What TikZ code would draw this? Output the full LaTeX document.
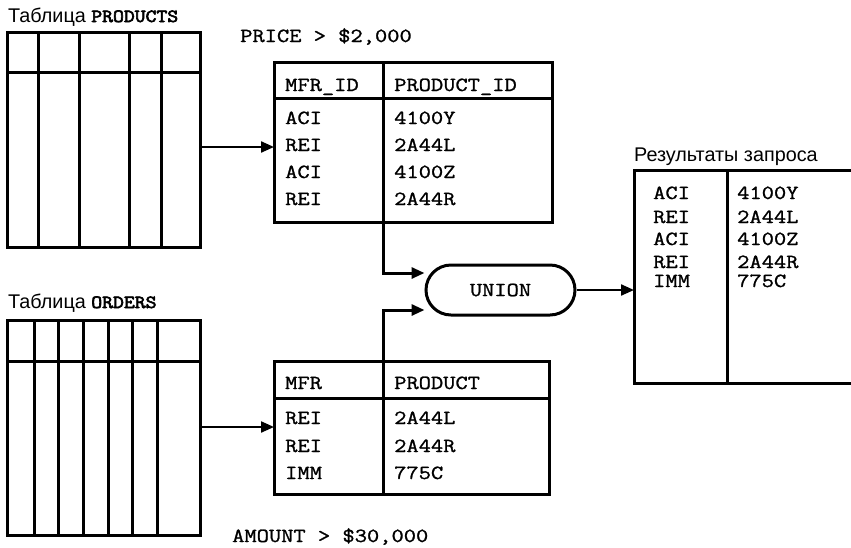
\documentclass[tikz,border=0pt]{standalone}
\usepackage{fontspec}
\setmainfont{Liberation Sans}
\newfontfamily\monof{Latin Modern Mono}[FakeStretch=1.19, FakeBold=1.2]
\newfontfamily\monob{Latin Modern Mono}[FakeStretch=1.14, FakeBold=3.5]
\usetikzlibrary{arrows.meta,shapes.misc}
\begin{document}
\begin{tikzpicture}[x=1pt,y=-1pt,
  frame/.style={draw, line width=3pt, inner sep=0pt, outer sep=0pt},
  gridline/.style={line width=3pt},
  arr/.style={line width=2.2pt, -{Triangle[length=13pt,width=11pt]}},
  lbl/.style={anchor=base west, inner sep=0pt, font=\fontsize{19.8}{20}\selectfont},
  cell/.style={anchor=base west, inner sep=0pt, font=\monof\fontsize{20}{20}\selectfont},
  ]
\useasboundingbox (0,0) rectangle (851,547);

% ---- PRODUCTS table
\node[frame, minimum width=193pt, minimum height=215pt] (prod) at (103.5,139.5) {};
\draw[gridline] (prod.west |- 0,72) -- (prod.east |- 0,72);
\foreach \x in {38,79,129,161} \draw[gridline] (\x,0 |- prod.north) -- (\x,0 |- prod.south);
\node[lbl] (lprod) at (8,22) {Таблица {\monob\fontsize{18.5}{18}\selectfont PRODUCTS}};

% ---- ORDERS table
\node[frame, minimum width=193pt, minimum height=215pt] (ord) at (103.5,427.5) {};
\draw[gridline] (ord.west |- 0,361) -- (ord.east |- 0,361);
\foreach \x in {34,58,83,108,132,157} \draw[gridline] (\x,0 |- ord.north) -- (\x,0 |- ord.south);
\node[lbl] (lord) at (8,308) {Таблица {\monob\fontsize{18.5}{18}\selectfont ORDERS}};

% ---- result table 1
\node[frame, minimum width=278pt, minimum height=160pt] (t1) at (413,142) {};
\draw[gridline] (t1.west |- 0,98) -- (t1.east |- 0,98);
\draw[gridline] (383,0 |- t1.north) -- (383,0 |- t1.south);
\node[cell] (price) at (240,42) {PRICE > \$2,000};
\node[cell] (h1a) at (285,91) {MFR\_ID};
\node[cell] (h1b) at (394,91) {PRODUCT\_ID};
\node[cell] (r1a) at (285,124) {ACI};   \node[cell] (r1b) at (394,124) {4100Y};
\node[cell] (r2a) at (285,151) {REI};   \node[cell] (r2b) at (394,151) {2A44L};
\node[cell] (r3a) at (285,178) {ACI};   \node[cell] (r3b) at (394,178) {4100Z};
\node[cell] (r4a) at (285,205) {REI};   \node[cell] (r4b) at (394,205) {2A44R};

% ---- result table 2
\node[frame, minimum width=275pt, minimum height=133pt] (t2) at (411.5,427.5) {};
\draw[gridline] (t2.west |- 0,398) -- (t2.east |- 0,398);
\draw[gridline] (383,0 |- t2.north) -- (383,0 |- t2.south);
\node[cell] (h2a) at (285,389) {MFR};
\node[cell] (h2b) at (394,389) {PRODUCT};
\node[cell] (s1a) at (285,424) {REI};   \node[cell] (s1b) at (394,424) {2A44L};
\node[cell] (s2a) at (285,452) {REI};   \node[cell] (s2b) at (394,452) {2A44R};
\node[cell] (s3a) at (285,479) {IMM};   \node[cell] (s3b) at (394,479) {775C};
\node[cell] (amount) at (232,542) {AMOUNT > \$30,000};

% ---- UNION
\node[rounded rectangle, draw, line width=3pt, minimum width=149pt, minimum height=50pt,
      inner sep=0pt, font=\monof\fontsize{20}{20}\selectfont] (union) at (500.5,290) {UNION};

% ---- final result
\node[draw=none, minimum width=217pt, minimum height=213pt, inner sep=0pt, outer sep=0pt] (res) at (742.5,276.5) {};
\draw[gridline] (res.north east) -- (res.north west) -- (res.south west) -- (res.south east);
\draw[gridline] (727,0 |- res.north) -- (727,0 |- res.south);
\node[lbl] (lres) at (634,161) {Результаты запроса};
\node[cell] (q1a) at (653,199) {ACI};  \node[cell] (q1b) at (737,199) {4100Y};
\node[cell] (q2a) at (653,223) {REI};  \node[cell] (q2b) at (737,223) {2A44L};
\node[cell] (q3a) at (653,245) {ACI};  \node[cell] (q3b) at (737,245) {4100Z};
\node[cell] (q4a) at (653,268) {REI};  \node[cell] (q4b) at (737,268) {2A44R};
\node[cell] (q5a) at (653,287) {IMM};  \node[cell] (q5b) at (737,287) {775C};

% ---- connectors
\draw[arr] (prod.east |- 0,147) -- (t1.west |- 0,147);
\draw[arr] (ord.east |- 0,427) -- (t2.west |- 0,427);
\draw[arr, line width=3pt] (383,0 |- t1.south) -- (383,273) -- (union.west |- 0,273);
\draw[arr, line width=3pt] (383,0 |- t2.north) -- (383,310) -- (union.west |- 0,310);
\draw[arr] (union.east) -- (res.west |- union.east);
\end{tikzpicture}
\end{document}
